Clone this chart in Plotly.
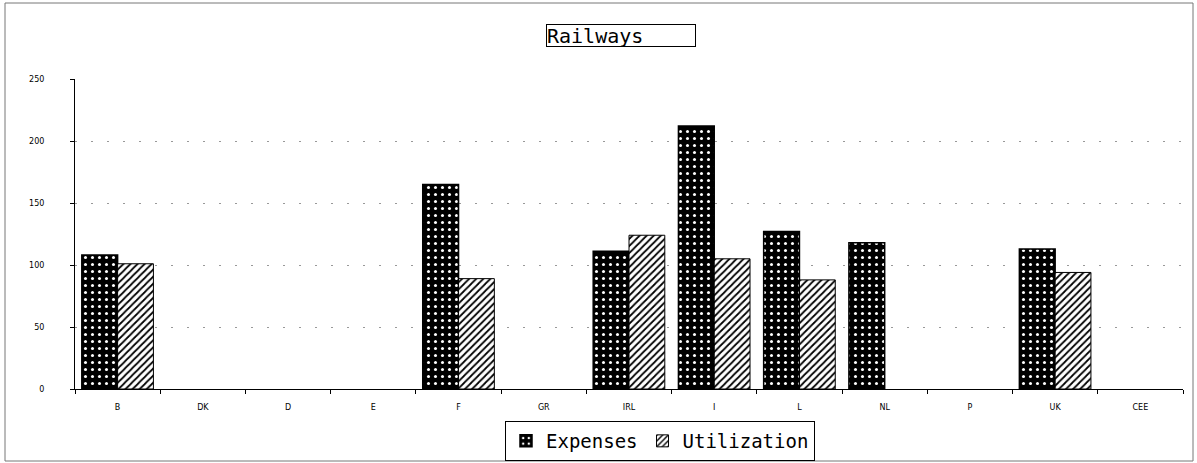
import plotly.graph_objects as go

# Railway indices by country
countries = ["B", "DK", "D", "E", "F", "GR", "IRL", "I", "L", "NL", "P", "UK", "CEE"]
expenses = [108, None, None, None, 165, None, 111, 212, 127, 118, None, 113, None]
utilization = [101, None, None, None, 89, None, 124, 105, 88, None, None, 94, None]
y_ticks = [0, 50, 100, 150, 200, 250]

W, H = 1197, 463
L, R, T, B = 75, 14, 79, 74
pw, ph = W - L - R, H - T - B


def px_x(x):
    return (x - L) / pw


def px_y(y):
    return (H - B - y) / ph


fig = go.Figure()
fig.add_trace(go.Bar(
    name="Expenses", x=countries, y=expenses,
    marker=dict(
        color="black",
        line=dict(color="black", width=1.5),
        pattern=dict(shape=".", fillmode="replace", bgcolor="black",
                     fgcolor="white", size=7, solidity=0.15),
    ),
))
fig.add_trace(go.Bar(
    name="Utilization", x=countries, y=utilization,
    marker=dict(
        color="white",
        line=dict(color="black", width=1),
        pattern=dict(shape="/", fillmode="replace", bgcolor="white",
                     fgcolor="black", size=5, solidity=0.35),
    ),
))

fig.update_layout(
    width=W, height=H,
    margin=dict(l=L, r=R, t=T, b=B, autoexpand=False),
    paper_bgcolor="white", plot_bgcolor="white",
    barmode="group", bargap=0.16, bargroupgap=0,
    font=dict(family="DejaVu Sans", color="black"),
    showlegend=True,
    legend=dict(
        orientation="h",
        xref="container", x=505 / W, xanchor="left",
        yref="container", y=1 - 421 / H, yanchor="top",
        bordercolor="black", borderwidth=1,
        font=dict(family="DejaVu Sans Mono", size=19, color="black"),
        itemwidth=30, tracegroupgap=0,
    ),
    xaxis=dict(
        type="category",
        showline=True, linecolor="black", linewidth=1,
        ticks="outside", ticklen=4, tickcolor="black",
        tickson="boundaries",
        showgrid=False,
        tickfont=dict(family="DejaVu Sans", size=8, color="black"),
        ticklabelstandoff=10,
    ),
    yaxis=dict(
        range=[0, 250],
        tickvals=y_ticks,
        showline=True, linecolor="black", linewidth=1,
        ticks="outside", ticklen=4, tickcolor="black",
        showgrid=True, gridcolor="#999999", gridwidth=1,
        griddash="2px,14px",
        zeroline=False,
        tickfont=dict(family="DejaVu Sans", size=8, color="black"),
        ticklabelstandoff=24,
    ),
    annotations=[dict(
        text="Railways", xref="paper", yref="paper",
        x=px_x(546), xanchor="left", y=px_y(24), yanchor="top",
        width=148, height=21, align="left", showarrow=False,
        font=dict(family="DejaVu Sans Mono", size=20, color="black"),
        bordercolor="black", borderwidth=1, borderpad=0,
    )],
    shapes=[dict(
        type="rect", xref="paper", yref="paper",
        x0=px_x(5), x1=px_x(1193), y0=px_y(461), y1=px_y(3),
        line=dict(color="#777777", width=1),
    )],
)

fig.write_html("out.html")
